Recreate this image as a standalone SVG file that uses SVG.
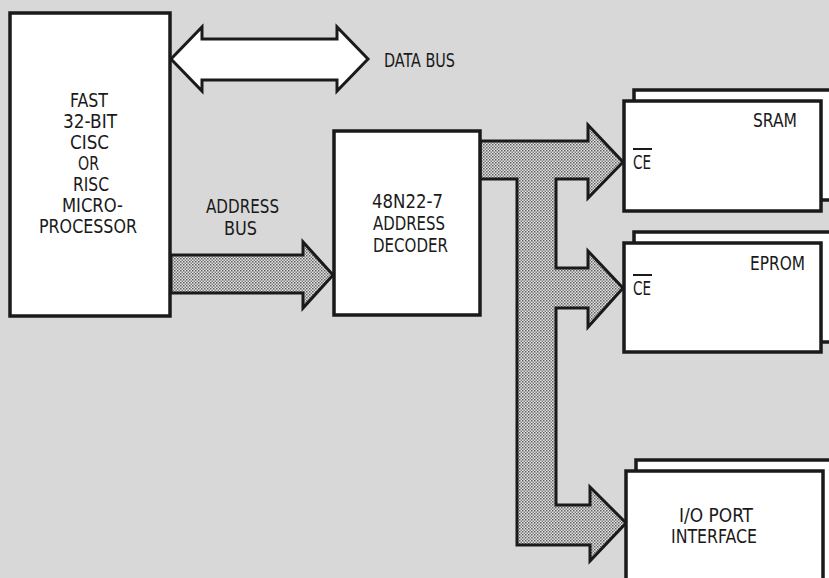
<svg xmlns="http://www.w3.org/2000/svg" width="829" height="578" viewBox="0 0 829 578">
<defs>
<pattern id="dots" width="3" height="3" patternUnits="userSpaceOnUse">
<rect width="3" height="3" fill="#e4e4e4"/>
<rect x="0" y="0" width="1.5" height="1.5" fill="#5e5e5e"/>
<rect x="1.5" y="1.5" width="1.5" height="1.5" fill="#808080"/>
</pattern>
</defs>
<style>
.box{fill:#ffffff;stroke:#1a1a1a;stroke-width:3.5;}
.bus{fill:url(#dots);stroke:#1a1a1a;stroke-width:3;stroke-linejoin:miter;}
.wbus{fill:#ffffff;stroke:#1a1a1a;stroke-width:3;}
text{font-family:"DejaVu Sans Condensed","DejaVu Sans","Liberation Sans",sans-serif;font-size:20px;fill:#1a1a1a;}
.sm{font-size:19px;}
.ol{stroke:#1a1a1a;stroke-width:2;}
</style>
<rect width="829" height="578" fill="#d8d8d8"/>

<g id="connectors">
<path class="wbus" d="M171,59 L202,27 L202,39 L337,39 L337,27 L368,59 L337,91 L337,80 L202,80 L202,91 Z"/>
<path class="bus" d="M171,255 L303,255 L303,242 L333,275 L303,308 L303,293 L171,293 Z"/>
<path class="bus" d="M480,141 L588,141 L588,125 L623,162 L588,198 L588,179 L556,179 L556,268 L588,268 L588,251 L623,288 L588,327 L588,308 L556,308 L556,505 L590,505 L590,487 L626,523 L590,561 L590,545 L517,545 L517,179 L480,179 Z"/>
</g>

<g id="microprocessor">
<rect class="box" x="10" y="13" width="160" height="303"/>
<text class="sm" x="70" y="107" textLength="38" lengthAdjust="spacingAndGlyphs">FAST</text>
<text class="sm" x="63" y="128" textLength="54" lengthAdjust="spacingAndGlyphs">32-BIT</text>
<text class="sm" x="70" y="149" textLength="39" lengthAdjust="spacingAndGlyphs">CISC</text>
<text class="sm" x="78" y="170" textLength="21" lengthAdjust="spacingAndGlyphs">OR</text>
<text class="sm" x="73" y="191" textLength="36" lengthAdjust="spacingAndGlyphs">RISC</text>
<text class="sm" x="62" y="212" textLength="61" lengthAdjust="spacingAndGlyphs">MICRO-</text>
<text class="sm" x="39" y="233" textLength="98" lengthAdjust="spacingAndGlyphs">PROCESSOR</text>
</g>

<g id="data-bus-label">
<text x="384" y="67" textLength="71" lengthAdjust="spacingAndGlyphs">DATA BUS</text>
</g>

<g id="address-bus-label">
<text x="206" y="213" textLength="73" lengthAdjust="spacingAndGlyphs">ADDRESS</text>
<text x="224" y="235" textLength="33" lengthAdjust="spacingAndGlyphs">BUS</text>
</g>

<g id="decoder">
<rect class="box" x="334" y="131" width="146" height="184"/>
<text x="372" y="208" textLength="71" lengthAdjust="spacingAndGlyphs">48N22-7</text>
<text x="373" y="230" textLength="72" lengthAdjust="spacingAndGlyphs">ADDRESS</text>
<text x="373" y="252" textLength="75" lengthAdjust="spacingAndGlyphs">DECODER</text>
</g>

<g id="sram">
<rect class="box" x="634" y="90" width="200" height="110"/>
<rect class="box" x="624" y="101" width="197" height="110"/>
<text x="753" y="127" textLength="44" lengthAdjust="spacingAndGlyphs">SRAM</text>
<text x="633" y="169" textLength="18" lengthAdjust="spacingAndGlyphs">CE</text>
<line class="ol" x1="633" y1="149" x2="652" y2="149"/>
</g>

<g id="eprom">
<rect class="box" x="634" y="232" width="200" height="110"/>
<rect class="box" x="624" y="243" width="197" height="109"/>
<text x="750" y="270" textLength="55" lengthAdjust="spacingAndGlyphs">EPROM</text>
<text x="633" y="295" textLength="18" lengthAdjust="spacingAndGlyphs">CE</text>
<line class="ol" x1="633" y1="275" x2="652" y2="275"/>
</g>

<g id="io-port">
<rect class="box" x="636" y="460" width="200" height="130"/>
<rect class="box" x="626" y="471" width="197" height="120"/>
<text class="sm" x="679" y="522" textLength="74" lengthAdjust="spacingAndGlyphs">I/O PORT</text>
<text class="sm" x="671" y="543" textLength="86" lengthAdjust="spacingAndGlyphs">INTERFACE</text>
</g>
</svg>
